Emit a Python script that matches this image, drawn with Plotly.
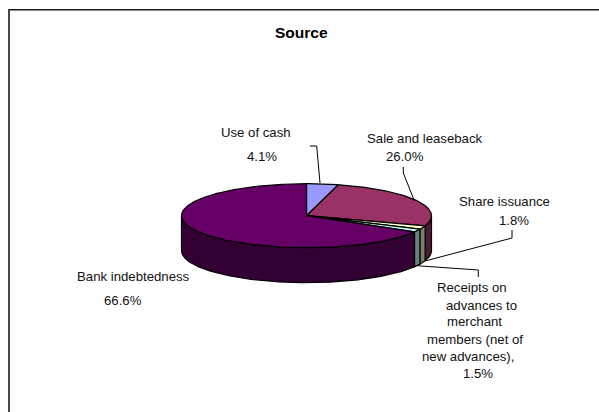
import numpy as np
import plotly.graph_objects as go

labels = ["Use of cash", "Sale and leaseback", "Share issuance",
          "Receipts on advances to merchant members (net of new advances),", "Bank indebtedness"]
values = [4.1, 26.0, 1.8, 1.5, 66.6]
top_colors = ["#9999FF", "#993366", "#FFFFCC", "#CCFFFF", "#660066"]
wall_colors = ["#4D4D80", "#4D1A33", "#808066", "#668080", "#330033"]

W, H = 599, 412
CX, CY, RX, RY, DEPTH = 306.5, 215.7, 125, 32, 35


def px(t):
    return CX + RX * np.sin(np.radians(t))


def py(t, drop=0.0):
    return CY - RY * np.cos(np.radians(t)) + drop


fig = go.Figure()
edges = np.concatenate([[0], np.cumsum(values)]) * 360 / sum(values)
LINE = dict(color="black", width=1.2)

# side walls (only the front half of the disc is visible)
for i, lab in enumerate(labels):
    a, b = max(edges[i], 90), min(edges[i + 1], 270)
    if b <= a:
        continue
    t = np.linspace(a, b, max(int(b - a) * 2, 4))
    xs = np.concatenate([px(t), px(t[::-1])])
    ys = np.concatenate([py(t), py(t[::-1], DEPTH)])
    fig.add_trace(go.Scatter(x=np.append(xs, xs[0]), y=np.append(ys, ys[0]), mode="lines",
                             fill="toself", fillcolor=wall_colors[i], line=LINE,
                             hoverinfo="skip", showlegend=False))

# top faces
for i, lab in enumerate(labels):
    t = np.linspace(edges[i], edges[i + 1], max(int(edges[i + 1] - edges[i]) * 2, 4))
    xs = np.concatenate([[CX], px(t), [CX]])
    ys = np.concatenate([[CY], py(t), [CY]])
    fig.add_trace(go.Scatter(x=xs, y=ys, mode="lines", fill="toself", fillcolor=top_colors[i],
                             line=LINE, name=lab, text=f"{lab} {values[i]}%", hoverinfo="text",
                             showlegend=False))

FONT = "Liberation Sans, Arial, sans-serif"
texts = [
    ("Use of cash", 220.7, 132.3), ("4.1%", 247.3, 156.7),
    ("Sale and leaseback", 367.3, 138.7), ("26.0%", 385.7, 156),
    ("Share issuance", 459, 201), ("1.8%", 499.3, 220),
    ("Bank indebtedness", 76.7, 276.7), ("66.6%", 104, 300),
    ("Receipts on", 437, 287), ("advances to", 446, 305), ("merchant", 447, 321.5),
    ("members (net of", 427, 339), ("new advances),", 422, 356), ("1.5%", 463, 373),
]
annotations = [dict(text=s, x=x, y=y, xref="x", yref="y", xanchor="left", yanchor="middle",
                    showarrow=False, font=dict(family=FONT, size=13.2, color="#111111"),
                    xshift=-2)
               for s, x, y in texts]
annotations.append(dict(text="<b>Source</b>", x=301.3, y=32.7, xref="x", yref="y", xanchor="center",
                        yanchor="middle", showarrow=False,
                        font=dict(family=FONT, size=15.5, color="black")))

leaders = ["M310,146 L316.7,146 L320,183", "M403.3,167 L403.3,173 L414.3,200.7",
           "M425,261 L512,238 L512,230", "M416.7,265.7 L478.3,270 L478.3,277"]
shapes = [dict(type="path", path=p, xref="x", yref="y", line=dict(color="black", width=1))
          for p in leaders]
shapes.append(dict(type="path", path="M9,420 L9,9.7 L610,9.7", xref="x", yref="y",
                   line=dict(color="#1a1a1a", width=1.6)))

fig.update_layout(
    width=W, height=H, margin=dict(l=0, r=0, t=0, b=0), paper_bgcolor="white", plot_bgcolor="white",
    xaxis=dict(range=[0, W], visible=False, fixedrange=True),
    yaxis=dict(range=[H, 0], visible=False, fixedrange=True),
    annotations=annotations, shapes=shapes,
)
fig.write_html("out.html", config=dict(displayModeBar=False),
               post_script="document.body.style.margin='0';document.body.style.overflow='hidden';")
